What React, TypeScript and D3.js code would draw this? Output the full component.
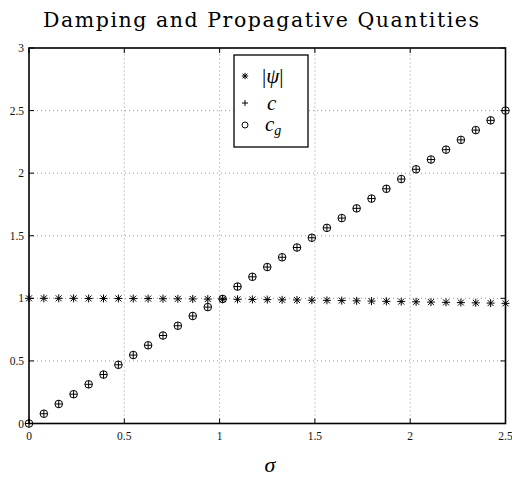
import React from "react";
import * as d3 from "d3";

// Sample points along sigma (33 samples across [0, 2.5])
const sigma = [
  0, 0.078, 0.156, 0.234, 0.313, 0.391, 0.469, 0.547, 0.625, 0.703, 0.781,
  0.859, 0.938, 1.016, 1.094, 1.172, 1.25, 1.328, 1.406, 1.484, 1.563, 1.641,
  1.719, 1.797, 1.875, 1.953, 2.031, 2.109, 2.188, 2.266, 2.344, 2.422, 2.5,
];
// Amplification factor magnitude
const psiAbs = [
  1.0, 1.0, 1.0, 1.0, 0.999, 0.999, 0.999, 0.998, 0.998, 0.997, 0.996, 0.995,
  0.994, 0.993, 0.992, 0.991, 0.99, 0.988, 0.987, 0.985, 0.984, 0.982, 0.98,
  0.978, 0.976, 0.974, 0.972, 0.97, 0.968, 0.966, 0.964, 0.962, 0.96,
];
// Phase speed
const cVals = [
  0, 0.078, 0.156, 0.234, 0.313, 0.391, 0.469, 0.547, 0.625, 0.703, 0.781,
  0.859, 0.93, 0.995, 1.094, 1.172, 1.25, 1.328, 1.406, 1.484, 1.563, 1.641,
  1.719, 1.797, 1.875, 1.953, 2.031, 2.109, 2.188, 2.266, 2.344, 2.422, 2.5,
];
// Group speed
const cgVals = [
  0, 0.078, 0.156, 0.234, 0.313, 0.391, 0.469, 0.547, 0.625, 0.703, 0.781,
  0.859, 0.93, 0.995, 1.094, 1.172, 1.25, 1.328, 1.406, 1.484, 1.563, 1.641,
  1.719, 1.797, 1.875, 1.953, 2.031, 2.109, 2.188, 2.266, 2.344, 2.422, 2.5,
];
const xTicks = [0, 0.5, 1, 1.5, 2, 2.5];
const yTicks = [0, 0.5, 1, 1.5, 2, 2.5, 3];

const W = 512;
const H = 479;
const M = { left: 29, right: 6.5, top: 48, bottom: 55.5 };

const x = d3.scaleLinear().domain([0, 2.5]).range([M.left, W - M.right]);
const y = d3.scaleLinear().domain([0, 3]).range([H - M.bottom, M.top]);

const SERIF = "'Liberation Serif', 'DejaVu Serif', serif";
const TITLE_FONT = "'DejaVu Serif', 'Liberation Serif', serif";

function Asterisk({ cx, cy, s = 4 }: { cx: number; cy: number; s?: number }) {
  const d = s * 0.75;
  return (
    <g stroke="#000" strokeWidth={1}>
      <line x1={cx - s} y1={cy} x2={cx + s} y2={cy} />
      <line x1={cx} y1={cy - s} x2={cx} y2={cy + s} />
      <line x1={cx - d} y1={cy - d} x2={cx + d} y2={cy + d} />
      <line x1={cx - d} y1={cy + d} x2={cx + d} y2={cy - d} />
    </g>
  );
}

function Plus({ cx, cy, s = 3.8 }: { cx: number; cy: number; s?: number }) {
  return (
    <g stroke="#000" strokeWidth={1}>
      <line x1={cx - s} y1={cy} x2={cx + s} y2={cy} />
      <line x1={cx} y1={cy - s} x2={cx} y2={cy + s} />
    </g>
  );
}

function Circle({ cx, cy, r = 3.8 }: { cx: number; cy: number; r?: number }) {
  return <circle cx={cx} cy={cy} r={r} fill="none" stroke="#000" strokeWidth={1} />;
}

export default function App() {
  const x0 = M.left;
  const x1 = W - M.right;
  const y0 = H - M.bottom;
  const y1 = M.top;
  const tick = 5;

  const lx = 234;
  const ly = 55;
  const lw = 74;
  const lh = 92;

  return (
    <svg
      width={W}
      height={H}
      style={{ position: "absolute", left: 0, top: 0, background: "#fff" }}
    >
      <rect width={W} height={H} fill="#fff" />
      {/* title */}
      <text
        x={261}
        y={27}
        textAnchor="middle"
        fontFamily={TITLE_FONT}
        fontSize={20.5}
        textLength={436}
        lengthAdjust="spacing"
      >
        Damping and Propagative Quantities
      </text>

      {/* grid */}
      <g stroke="#999" strokeWidth={1} strokeDasharray="1,3">
        {xTicks.slice(1, -1).map((t) => (
          <line key={"gx" + t} x1={x(t)} x2={x(t)} y1={y0} y2={y1} />
        ))}
        {yTicks.slice(1, -1).map((t) => (
          <line key={"gy" + t} x1={x0} x2={x1} y1={y(t)} y2={y(t)} />
        ))}
      </g>

      {/* ticks */}
      <g stroke="#000" strokeWidth={1}>
        {xTicks.map((t) => (
          <g key={"tx" + t}>
            <line x1={x(t)} x2={x(t)} y1={y0} y2={y0 - tick} />
            <line x1={x(t)} x2={x(t)} y1={y1} y2={y1 + tick} />
          </g>
        ))}
        {yTicks.map((t) => (
          <g key={"ty" + t}>
            <line x1={x0} x2={x0 + tick} y1={y(t)} y2={y(t)} />
            <line x1={x1} x2={x1 - tick} y1={y(t)} y2={y(t)} />
          </g>
        ))}
      </g>

      {/* tick labels */}
      <g fontFamily={SERIF} fontSize={11.5} fill="#111">
        {xTicks.map((t) => (
          <text key={"lx" + t} x={x(t)} y={y0 + 16} textAnchor="middle">
            {String(t)}
          </text>
        ))}
        {yTicks.map((t) => (
          <text key={"ly" + t} x={x0 - 5} y={y(t) + 4} textAnchor="end">
            {String(t)}
          </text>
        ))}
      </g>

      {/* data markers */}
      {sigma.map((s, i) => (
        <Asterisk key={"p" + i} cx={x(s)} cy={y(psiAbs[i])} />
      ))}
      {sigma.map((s, i) => (
        <Plus key={"c" + i} cx={x(s)} cy={y(cVals[i])} />
      ))}
      {sigma.map((s, i) => (
        <Circle key={"g" + i} cx={x(s)} cy={y(cgVals[i])} />
      ))}

      {/* axes box */}
      <rect
        x={x0}
        y={y1}
        width={x1 - x0}
        height={y0 - y1}
        fill="none"
        stroke="#000"
        strokeWidth={1.6}
      />

      {/* legend */}
      <rect x={lx} y={ly} width={lw} height={lh} fill="#fff" stroke="#000" strokeWidth={1.3} />
      <Asterisk cx={lx + 11} cy={ly + 21} s={3.2} />
      <Plus cx={lx + 11} cy={ly + 48} s={3} />
      <Circle cx={lx + 11} cy={ly + 70} r={3} />
      <g fontFamily={SERIF} fontSize={21} fontStyle="italic">
        <text x={lx + 28} y={ly + 28}>
          <tspan fontStyle="normal">|</tspan>ψ<tspan fontStyle="normal">|</tspan>
        </text>
        <text x={lx + 33} y={ly + 55}>c</text>
        <text x={lx + 31} y={ly + 76}>
          c<tspan fontSize={14} dy={4}>g</tspan>
        </text>
      </g>

      {/* x axis label */}
      <text
        x={270}
        y={472}
        textAnchor="middle"
        fontFamily={SERIF}
        fontSize={22}
        fontStyle="italic"
      >
        σ
      </text>
    </svg>
  );
}
